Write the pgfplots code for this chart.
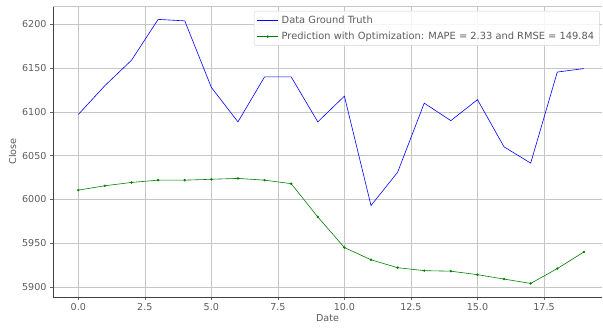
\documentclass[border=0pt]{standalone}
\usepackage{pgfplots}
\pgfplotsset{compat=1.18}
\usepackage{fontspec}
\setmainfont{DejaVu Sans}
\definecolor{txt}{HTML}{333333}
\begin{document}
\begin{tikzpicture}
\begin{axis}[
  scale only axis,
  width=549bp, height=291bp,
  xmin=-0.95, xmax=19.68,
  ymin=5888.5, ymax=6221,
  axis lines*=left,
  axis line style={black!75, line width=0.8pt},
  xtick={0,2.5,5,7.5,10,12.5,15,17.5},
  ytick={5900,5950,6000,6050,6100,6150,6200},
  xticklabel style={/pgf/number format/.cd,fixed,fixed zerofill,precision=1},
  yticklabel style={/pgf/number format/.cd,fixed,1000 sep={}},
  /pgf/number format/assume math mode=true,
  tick label style={font=\fontsize{9.6}{11}\selectfont, text=txt!80},
  label style={font=\fontsize{9.6}{11}\selectfont, text=txt!80},
  tick align=outside,
  major tick length=3bp,
  tick style={black!60, line width=0.6pt},
  grid=major,
  major grid style={gray!45, line width=0.6pt},
  xlabel={Date}, ylabel={Close},
  xlabel style={yshift=3bp},
  ylabel style={yshift=-1bp},
  legend image code/.code={\draw[mark repeat=2,mark phase=2,#1] plot coordinates {(0cm,0cm) (0.38cm,0cm) (0.76cm,0cm)};},
  legend style={at={(0.996,0.983)}, anchor=north east, draw=gray!35, rounded corners=2pt,
    font=\fontsize{9.9}{11}\selectfont, text=txt!80, row sep=3.5pt, inner sep=2.5pt,
    fill=white, fill opacity=0.85, text opacity=1,
    nodes={inner xsep=3pt}},
  legend cell align=left,
]
\addplot[blue, line width=0.6pt] coordinates {
(0,6097) (1,6130) (2,6159) (3,6205.7) (4,6204) (5,6128) (6,6088.6) (7,6140) (8,6140) (9,6088.6)
(10,6118) (11,5993) (12,6031) (13,6110) (14,6090) (15,6114) (16,6060) (17,6041.5) (18,6145.5) (19,6149.5)
};
\addlegendentry{Data Ground Truth}
\addplot[green!50!black, line width=0.6pt, mark=*, mark size=0.9pt] coordinates {
(0,6010.6) (1,6015.6) (2,6019.4) (3,6022) (4,6022) (5,6023) (6,6024) (7,6022) (8,6018) (9,5980)
(10,5945) (11,5931) (12,5922) (13,5918.6) (14,5918) (15,5914) (16,5909) (17,5904) (18,5921) (19,5940)
};
\addlegendentry{Prediction with Optimization: MAPE = 2.33 and RMSE = 149.84}
\end{axis}
\draw[gray!45, line width=0.6pt] (current axis.north west) -- (current axis.north east);
\pgfresetboundingbox
\path (current axis.south west) ++(-53bp,-31bp) coordinate (bl);
\path (current axis.north east) ++(1bp,6bp) coordinate (tr);
\path[use as bounding box] (bl) rectangle (tr);
\end{tikzpicture}
\end{document}
